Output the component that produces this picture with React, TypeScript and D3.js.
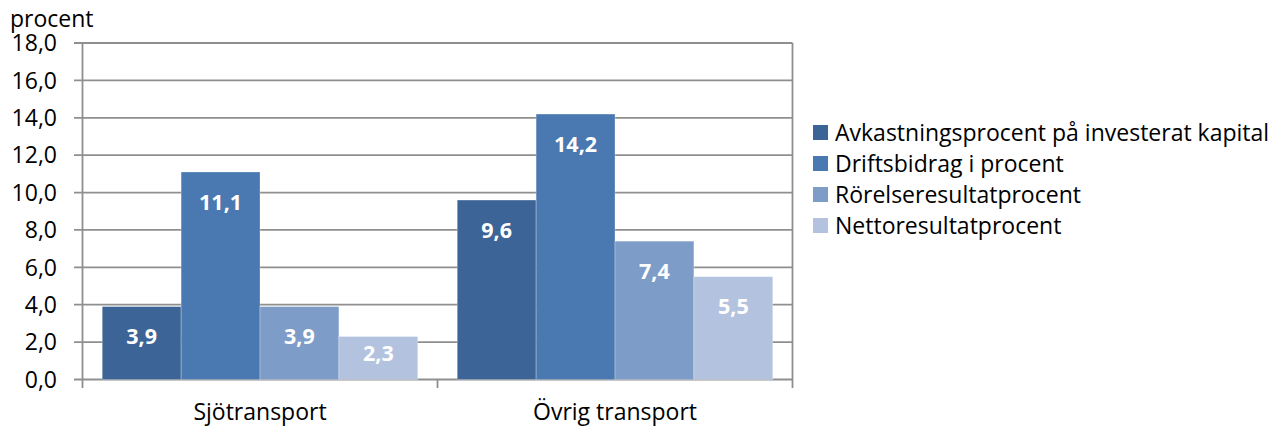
import React from "react";
import * as d3 from "d3";

const categories = ["Sjötransport", "Övrig transport"];
const seriesNames = [
  "Avkastningsprocent på investerat kapital",
  "Driftsbidrag i procent",
  "Rörelseresultatprocent",
  "Nettoresultatprocent",
];
const seriesValues = [
  [3.9, 9.6],
  [11.1, 14.2],
  [3.9, 7.4],
  [2.3, 5.5],
];
const yTicks = [0, 2, 4, 6, 8, 10, 12, 14, 16, 18];
const colors = ["#3D6496", "#4A78B0", "#7E9CC8", "#B3C3DF"];

const W = 1277;
const H = 426;
const left = 82.5;
const right = 792.5;
const top = 43;
const bottom = 379.5;
const FONT = "'Open Sans', sans-serif";
const fmt = (v: number) => v.toFixed(1).replace(".", ",");

export default function App() {
  const y = d3.scaleLinear().domain([0, 18]).range([bottom, top]);
  const x0 = d3.scaleBand<string>().domain(categories).range([left, right]).paddingInner(0).paddingOuter(0);
  const x1 = d3
    .scaleBand<number>()
    .domain(seriesNames.map((_, i) => i))
    .range([0, x0.bandwidth()])
    .paddingInner(0)
    .paddingOuter(0.25);
  const grid = "#8f8f8f";
  return (
    <svg width={W} height={H} style={{ position: "absolute", left: 0, top: 0 }} fontFamily={FONT}>
      <rect width={W} height={H} fill="#fff" />
      {yTicks.map((t) => (
        <g key={t}>
          <line x1={74} x2={right} y1={y(t)} y2={y(t)} stroke={grid} strokeWidth={1.8} />
          <text x={57} y={y(t)} dy="0.36em" textAnchor="end" fontSize={23} fill="#000">
            {fmt(t)}
          </text>
        </g>
      ))}
      <line x1={left} x2={left} y1={top} y2={388} stroke={grid} strokeWidth={1.8} />
      <line x1={right} x2={right} y1={top} y2={388} stroke={grid} strokeWidth={1.8} />
      {categories.slice(1).map((c) => (
        <line key={c} x1={x0(c)!} x2={x0(c)!} y1={bottom} y2={388} stroke={grid} strokeWidth={1.8} />
      ))}
      <text x={10} y={19} dy="0.36em" fontSize={23} fill="#000">
        procent
      </text>
      {seriesValues.map((vals, si) =>
        vals.map((v, ci) => {
          const bx = x0(categories[ci])! + x1(si)!;
          const bw = x1.bandwidth();
          const by = y(v);
          const ly = Math.min(by + 30, bottom - 26);
          return (
            <g key={`${si}-${ci}`}>
              <rect x={bx} y={by} width={bw} height={bottom - by} fill={colors[si]} stroke="#ffffff" strokeOpacity={0.35} strokeWidth={0.8} />
              <text x={bx + bw / 2} y={ly} dy="0.36em" textAnchor="middle" fontSize={21.5} fontWeight="bold" fill="#fff">
                {fmt(v)}
              </text>
            </g>
          );
        })
      )}
      {categories.map((c) => (
        <text key={c} x={x0(c)! + x0.bandwidth() / 2} y={412} dy="0.36em" textAnchor="middle" fontSize={23} fill="#000">
          {c}
        </text>
      ))}
      {seriesNames.map((s, i) => (
        <g key={s} transform={`translate(813, ${125 + i * 31})`}>
          <rect width={15} height={15} fill={colors[i]} />
          <text x={22} y={7.5} dy="0.36em" fontSize={23} fill="#000">
            {s}
          </text>
        </g>
      ))}
    </svg>
  );
}
